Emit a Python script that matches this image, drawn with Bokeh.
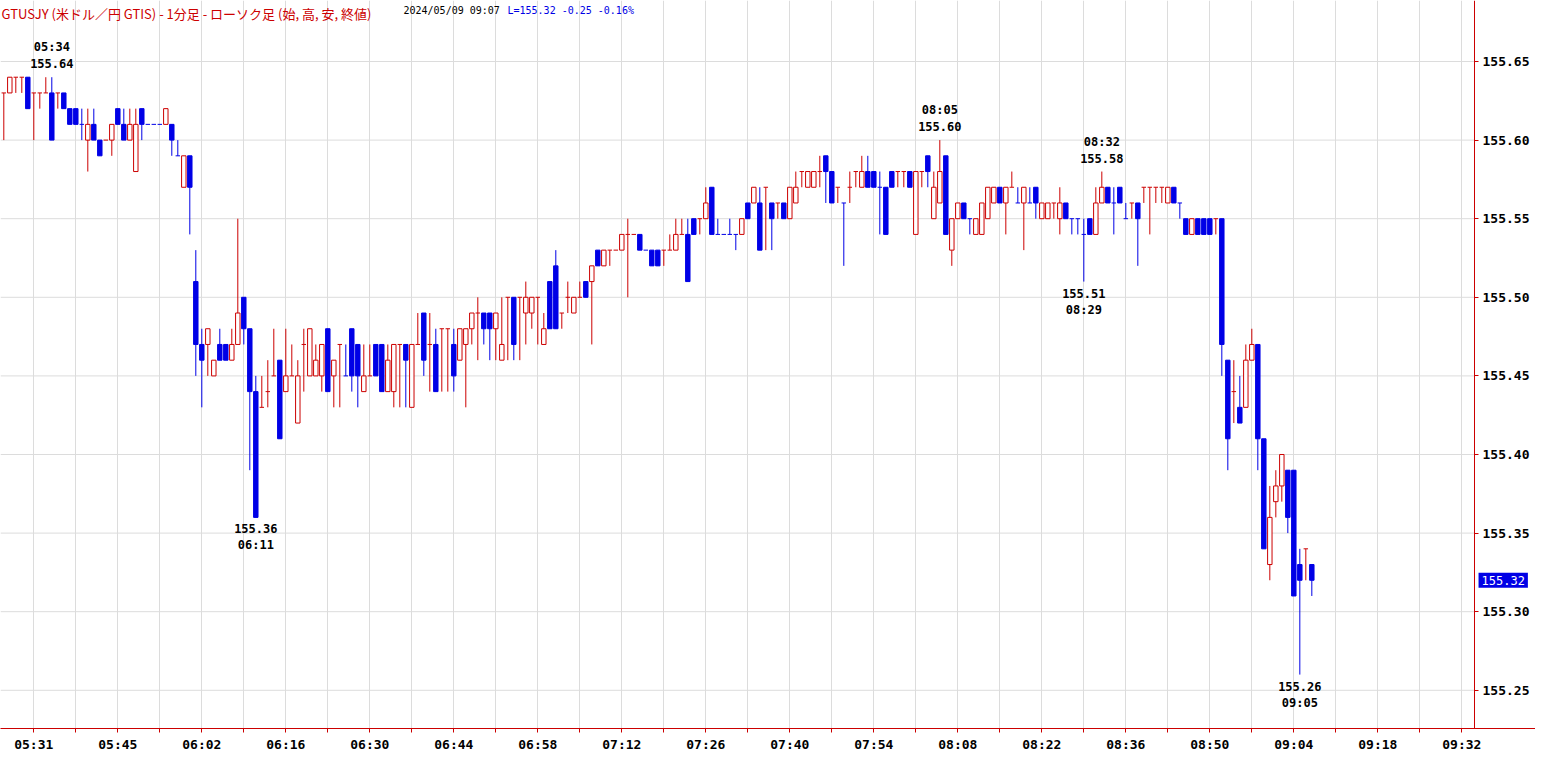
from bokeh.plotting import figure
from bokeh.models import ColumnDataSource, FixedTicker, Label, Range1d, NumeralTickFormatter
from bokeh.embed import file_html
from bokeh.resources import INLINE

# ---------------- data (1-minute bars, USD/JPY, 2024/05/09) ----------------
opens = [
    155.63, 155.63, 155.64, 155.64, 155.64, 155.63, 155.63, 155.63, 155.63, 155.63,
    155.63, 155.62, 155.62, 155.61, 155.60, 155.61, 155.60, 155.60, 155.60, 155.62,
    155.61, 155.60, 155.58, 155.62, 155.61, 155.61, 155.61, 155.61, 155.61, 155.59,
    155.57, 155.59, 155.51, 155.47, 155.47, 155.45, 155.47, 155.47, 155.46, 155.47,
    155.50, 155.48, 155.44, 155.43, 155.44, 155.45, 155.46, 155.44, 155.45, 155.42,
    155.47, 155.45, 155.45, 155.45, 155.48, 155.45, 155.47, 155.45, 155.48, 155.47,
    155.44, 155.45, 155.47, 155.47, 155.44, 155.44, 155.47, 155.47, 155.43, 155.47,
    155.49, 155.47, 155.47, 155.48, 155.48, 155.47, 155.46, 155.47, 155.48, 155.49,
    155.49, 155.49, 155.48, 155.46, 155.50, 155.50, 155.50, 155.49, 155.49, 155.50,
    155.47, 155.51, 155.52, 155.49, 155.50, 155.49, 155.50, 155.51, 155.51, 155.53,
    155.52, 155.53, 155.53, 155.53, 155.54, 155.54, 155.54, 155.53, 155.53, 155.53,
    155.53, 155.53, 155.53, 155.54, 155.54, 155.55, 155.55, 155.55, 155.57, 155.54,
    155.54, 155.54, 155.54, 155.54, 155.56, 155.56, 155.56, 155.57, 155.56, 155.56,
    155.56, 155.55, 155.56, 155.58, 155.57, 155.57, 155.58, 155.59, 155.58, 155.57,
    155.56, 155.57, 155.58, 155.57, 155.58, 155.58, 155.57, 155.57, 155.58, 155.58,
    155.58, 155.58, 155.54, 155.58, 155.59, 155.55, 155.56, 155.59, 155.53, 155.55,
    155.56, 155.55, 155.54, 155.54, 155.55, 155.56, 155.57, 155.56, 155.57, 155.56,
    155.56, 155.56, 155.57, 155.55, 155.55, 155.56, 155.55, 155.56, 155.55, 155.55,
    155.54, 155.55, 155.54, 155.56, 155.57, 155.56, 155.57, 155.55, 155.56, 155.56,
    155.57, 155.57, 155.57, 155.57, 155.56, 155.57, 155.56, 155.55, 155.54, 155.55,
    155.55, 155.55, 155.55, 155.55, 155.46, 155.44, 155.43, 155.43, 155.46, 155.47,
    155.41, 155.33, 155.37, 155.38, 155.39, 155.39, 155.33, 155.34, 155.33,
]
highs = [
    155.63, 155.64, 155.64, 155.64, 155.64, 155.63, 155.63, 155.64, 155.64, 155.63,
    155.63, 155.62, 155.62, 155.62, 155.62, 155.62, 155.60, 155.60, 155.61, 155.62,
    155.62, 155.62, 155.62, 155.62, 155.61, 155.61, 155.61, 155.62, 155.61, 155.60,
    155.59, 155.59, 155.53, 155.48, 155.48, 155.46, 155.48, 155.47, 155.48, 155.55,
    155.50, 155.48, 155.45, 155.45, 155.46, 155.48, 155.46, 155.48, 155.47, 155.46,
    155.48, 155.48, 155.47, 155.47, 155.48, 155.46, 155.47, 155.47, 155.48, 155.47,
    155.47, 155.47, 155.47, 155.47, 155.47, 155.47, 155.47, 155.47, 155.47, 155.49,
    155.49, 155.49, 155.48, 155.48, 155.48, 155.48, 155.48, 155.48, 155.49, 155.50,
    155.49, 155.49, 155.49, 155.50, 155.50, 155.50, 155.50, 155.51, 155.50, 155.50,
    155.49, 155.51, 155.53, 155.49, 155.51, 155.50, 155.51, 155.51, 155.52, 155.53,
    155.53, 155.53, 155.53, 155.54, 155.55, 155.54, 155.54, 155.53, 155.53, 155.53,
    155.53, 155.54, 155.55, 155.55, 155.55, 155.55, 155.55, 155.57, 155.57, 155.55,
    155.54, 155.55, 155.54, 155.55, 155.56, 155.57, 155.57, 155.57, 155.56, 155.56,
    155.56, 155.57, 155.58, 155.58, 155.58, 155.58, 155.59, 155.59, 155.58, 155.57,
    155.56, 155.58, 155.58, 155.59, 155.59, 155.58, 155.58, 155.57, 155.58, 155.58,
    155.58, 155.58, 155.58, 155.58, 155.59, 155.58, 155.60, 155.59, 155.55, 155.56,
    155.56, 155.55, 155.55, 155.56, 155.57, 155.57, 155.57, 155.57, 155.58, 155.57,
    155.57, 155.57, 155.57, 155.56, 155.56, 155.56, 155.57, 155.56, 155.55, 155.55,
    155.55, 155.55, 155.57, 155.58, 155.57, 155.57, 155.57, 155.56, 155.56, 155.56,
    155.57, 155.57, 155.57, 155.57, 155.57, 155.57, 155.56, 155.55, 155.55, 155.55,
    155.55, 155.55, 155.55, 155.55, 155.46, 155.46, 155.45, 155.47, 155.48, 155.47,
    155.41, 155.38, 155.39, 155.40, 155.39, 155.39, 155.34, 155.34, 155.33,
]
lows = [
    155.60, 155.63, 155.63, 155.63, 155.62, 155.60, 155.62, 155.63, 155.60, 155.62,
    155.62, 155.61, 155.61, 155.60, 155.58, 155.60, 155.59, 155.60, 155.59, 155.61,
    155.60, 155.60, 155.58, 155.60, 155.61, 155.61, 155.61, 155.61, 155.59, 155.59,
    155.57, 155.54, 155.45, 155.43, 155.45, 155.45, 155.46, 155.46, 155.46, 155.47,
    155.47, 155.39, 155.36, 155.43, 155.43, 155.45, 155.41, 155.44, 155.45, 155.42,
    155.44, 155.45, 155.45, 155.44, 155.44, 155.43, 155.43, 155.45, 155.44, 155.43,
    155.44, 155.45, 155.45, 155.44, 155.44, 155.43, 155.43, 155.43, 155.43, 155.47,
    155.45, 155.44, 155.44, 155.44, 155.44, 155.44, 155.46, 155.43, 155.47, 155.46,
    155.47, 155.46, 155.46, 155.46, 155.46, 155.46, 155.46, 155.47, 155.48, 155.47,
    155.47, 155.48, 155.48, 155.48, 155.49, 155.49, 155.50, 155.50, 155.47, 155.52,
    155.52, 155.52, 155.53, 155.53, 155.50, 155.54, 155.53, 155.53, 155.52, 155.52,
    155.52, 155.53, 155.53, 155.54, 155.51, 155.54, 155.54, 155.55, 155.54, 155.54,
    155.54, 155.54, 155.53, 155.54, 155.55, 155.56, 155.53, 155.53, 155.53, 155.55,
    155.55, 155.55, 155.56, 155.57, 155.57, 155.57, 155.57, 155.56, 155.56, 155.56,
    155.52, 155.56, 155.57, 155.57, 155.57, 155.57, 155.54, 155.54, 155.57, 155.57,
    155.57, 155.57, 155.54, 155.57, 155.57, 155.55, 155.56, 155.54, 155.52, 155.55,
    155.55, 155.54, 155.54, 155.54, 155.55, 155.56, 155.56, 155.54, 155.57, 155.56,
    155.53, 155.56, 155.55, 155.55, 155.55, 155.55, 155.54, 155.55, 155.54, 155.54,
    155.51, 155.54, 155.54, 155.56, 155.56, 155.54, 155.56, 155.55, 155.55, 155.52,
    155.56, 155.54, 155.56, 155.56, 155.56, 155.56, 155.55, 155.54, 155.54, 155.54,
    155.54, 155.54, 155.54, 155.45, 155.39, 155.42, 155.42, 155.43, 155.46, 155.39,
    155.34, 155.32, 155.36, 155.37, 155.35, 155.31, 155.26, 155.32, 155.31,
]
closes = [
    155.63, 155.64, 155.64, 155.64, 155.62, 155.63, 155.63, 155.63, 155.60, 155.63,
    155.62, 155.61, 155.61, 155.61, 155.61, 155.60, 155.59, 155.60, 155.61, 155.61,
    155.60, 155.61, 155.61, 155.61, 155.61, 155.61, 155.61, 155.62, 155.60, 155.59,
    155.59, 155.57, 155.47, 155.46, 155.48, 155.46, 155.46, 155.46, 155.47, 155.49,
    155.48, 155.44, 155.36, 155.43, 155.44, 155.45, 155.41, 155.45, 155.45, 155.45,
    155.47, 155.48, 155.46, 155.47, 155.44, 155.46, 155.47, 155.45, 155.45, 155.45,
    155.45, 155.45, 155.45, 155.44, 155.46, 155.47, 155.47, 155.46, 155.47, 155.47,
    155.46, 155.47, 155.44, 155.48, 155.48, 155.45, 155.48, 155.48, 155.49, 155.49,
    155.48, 155.48, 155.49, 155.47, 155.50, 155.47, 155.50, 155.50, 155.50, 155.50,
    155.48, 155.48, 155.48, 155.49, 155.50, 155.50, 155.50, 155.50, 155.52, 155.52,
    155.53, 155.53, 155.53, 155.54, 155.54, 155.54, 155.53, 155.53, 155.52, 155.52,
    155.53, 155.53, 155.54, 155.54, 155.51, 155.54, 155.55, 155.56, 155.54, 155.54,
    155.54, 155.54, 155.54, 155.55, 155.55, 155.57, 155.53, 155.57, 155.55, 155.56,
    155.55, 155.57, 155.57, 155.58, 155.58, 155.58, 155.58, 155.58, 155.56, 155.57,
    155.56, 155.57, 155.58, 155.58, 155.57, 155.57, 155.57, 155.54, 155.57, 155.58,
    155.58, 155.57, 155.58, 155.58, 155.58, 155.57, 155.58, 155.54, 155.55, 155.56,
    155.55, 155.55, 155.55, 155.56, 155.57, 155.57, 155.56, 155.57, 155.57, 155.56,
    155.57, 155.56, 155.56, 155.56, 155.56, 155.56, 155.56, 155.55, 155.55, 155.55,
    155.54, 155.54, 155.56, 155.57, 155.56, 155.56, 155.56, 155.55, 155.56, 155.55,
    155.57, 155.57, 155.57, 155.57, 155.57, 155.56, 155.56, 155.54, 155.55, 155.54,
    155.54, 155.54, 155.55, 155.47, 155.41, 155.44, 155.42, 155.46, 155.47, 155.41,
    155.34, 155.36, 155.38, 155.40, 155.36, 155.31, 155.32, 155.34, 155.32,
]

# time-axis labels (one every 14 bars, starting at bar 5 = 05:31)
tick_labels = ["05:31", "05:45", "06:02", "06:16", "06:30", "06:44", "06:58", "07:12", "07:26",
               "07:40", "07:54", "08:08", "08:22", "08:36", "08:50", "09:04", "09:18", "09:32"]
first_tick_bar = 5
tick_step = 14

price_ticks = [155.25, 155.30, 155.35, 155.40, 155.45, 155.50, 155.55, 155.60, 155.65]

# marked highs / lows
ext_bars = [8, 42, 156, 180, 183, 216]
ext_times = ["05:34", "06:11", "08:05", "08:29", "08:32", "09:05"]
ext_is_high = [True, False, True, False, True, False]

title_main = "GTUSJY (米ドル／円 GTIS) - 1分足 - ローソク足 (始, 高, 安, 終値)"
title_date = "2024/05/09 09:07"
change_abs = -0.25
change_pct = -0.16

# ---------------- styling ----------------
RED = "#cc0000"
BLUE = "#0000e6"
GRID = "#dcdcdc"
MONO = "DejaVu Sans Mono"
BODY_W = 0.74

# plotting area covers the whole width; the price axis sits inside it
x_start, x_end = -0.55, 255.28
axis_x = 245.12
y_end = 155.6888
y_start = 155.2257

n = len(opens)
colors = []
prev = RED
for i in range(n):
    o, c = opens[i], closes[i]
    if c > o:
        col = RED
    elif c < o:
        col = BLUE
    else:
        pc = closes[i - 1] if i > 0 else c
        col = RED if c > pc else (BLUE if c < pc else prev)
    colors.append(col)
    prev = col

wick_src = ColumnDataSource(dict(x=list(range(n)), high=highs, low=lows, color=colors))

body = dict(x=[], top=[], bottom=[], fill=[], line=[])
doji = dict(x0=[], x1=[], y=[], color=[])
for i in range(n):
    o, c = opens[i], closes[i]
    if o != c:
        body["x"].append(i)
        body["top"].append(max(o, c))
        body["bottom"].append(min(o, c))
        body["fill"].append("white" if c > o else BLUE)
        body["line"].append(RED if c > o else BLUE)
    else:
        doji["x0"].append(i - BODY_W / 2)
        doji["x1"].append(i + BODY_W / 2)
        doji["y"].append(o)
        doji["color"].append(colors[i])

p = figure(width=1535, height=754,
           x_range=Range1d(x_start, x_end), y_range=Range1d(y_start, y_end),
           y_axis_location="right", output_backend="svg", toolbar_location=None,
           min_border_left=0, min_border_top=0, min_border_bottom=26, min_border_right=0)
p.outline_line_color = None
p.background_fill_color = "white"
p.border_fill_color = "white"

# horizontal grid lines stop at the price axis
p.ygrid.grid_line_color = None
p.segment(x0=[x_start] * len(price_ticks), y0=price_ticks, x1=[axis_x] * len(price_ticks),
          y1=price_ticks, line_color=GRID, line_width=1, level="underlay")

p.segment(x0="x", y0="low", x1="x", y1="high", line_color="color", line_width=1, source=wick_src)
p.vbar(x="x", width=BODY_W, top="top", bottom="bottom", fill_color="fill", line_color="line",
       line_width=1, source=ColumnDataSource(body))
p.segment(x0="x0", y0="y", x1="x1", y1="y", line_color="color", line_width=1,
          source=ColumnDataSource(doji))

# x axis
xticks = []
overrides = {}
k = 0
while first_tick_bar + 7 * k <= axis_x:
    t = first_tick_bar + 7 * k
    xticks.append(t)
    if k % 2 == 0 and k // 2 < len(tick_labels):
        overrides[t] = tick_labels[k // 2]
    else:
        overrides[t] = ""
    k += 1
p.xaxis.ticker = FixedTicker(ticks=xticks, minor_ticks=[])
p.xaxis.major_label_overrides = overrides
p.xaxis.major_label_text_align = "left"
p.xaxis.major_label_text_font = MONO
p.xaxis.major_label_text_font_style = "bold"
p.xaxis.major_label_text_font_size = "13px"
p.xaxis.major_label_text_color = "black"
p.xaxis.major_label_standoff = 4
p.xaxis.axis_line_color = RED
p.xaxis.major_tick_line_color = RED
p.xaxis.major_tick_out = 4
p.xaxis.major_tick_in = 0
p.xaxis.minor_tick_line_color = None
p.xgrid.ticker = FixedTicker(ticks=xticks, minor_ticks=[])
p.xgrid.grid_line_color = GRID

# price axis (right side), placed at axis_x inside the plotting area
p.yaxis.fixed_location = axis_x
p.yaxis.ticker = FixedTicker(ticks=price_ticks, minor_ticks=[])
p.yaxis.formatter = NumeralTickFormatter(format="0.00")
p.yaxis.major_label_text_font = MONO
p.yaxis.major_label_text_font_style = "bold"
p.yaxis.major_label_text_font_size = "13px"
p.yaxis.major_label_text_color = "black"
p.yaxis.major_label_standoff = 4
p.yaxis.axis_line_color = RED
p.yaxis.major_tick_line_color = RED
p.yaxis.major_tick_out = 4
p.yaxis.major_tick_in = 0
p.yaxis.minor_tick_line_color = None

# high / low annotations
for b, t, is_high in zip(ext_bars, ext_times, ext_is_high):
    price = highs[b] if is_high else lows[b]
    if is_high:
        p.add_layout(Label(x=b, y=price, text=f"{price:.2f}", y_offset=9, text_align="center",
                           text_baseline="bottom", text_font=MONO, text_font_style="bold",
                           text_font_size="12px", text_color="black"))
        p.add_layout(Label(x=b, y=price, text=t, y_offset=23, text_align="center",
                           text_baseline="bottom", text_font=MONO, text_font_style="bold",
                           text_font_size="12px", text_color="black"))
    else:
        p.add_layout(Label(x=b, y=price, text=f"{price:.2f}", y_offset=-7, text_align="center",
                           text_baseline="top", text_font=MONO, text_font_style="bold",
                           text_font_size="12px", text_color="black"))
        p.add_layout(Label(x=b, y=price, text=t, y_offset=-21, text_align="center",
                           text_baseline="top", text_font=MONO, text_font_style="bold",
                           text_font_size="12px", text_color="black"))

# header texts
last = closes[-1]
p.add_layout(Label(x=x_start, y=y_end, x_offset=1, y_offset=-3, text=title_main,
                   text_baseline="top", text_font="Noto Sans CJK JP",
                   text_font_size="13px", text_color=RED))
p.add_layout(Label(x=x_start, y=y_end, x_offset=403, y_offset=-4, text=title_date,
                   text_baseline="top", text_font=MONO, text_font_size="10px", text_color="black"))
p.add_layout(Label(x=x_start, y=y_end, x_offset=507, y_offset=-4,
                   text=f"L={last:.2f}  {change_abs:.2f}  {change_pct:.2f}%",
                   text_baseline="top", text_font=MONO, text_font_size="10px", text_color=BLUE))

# last price tag next to the price axis
tag = Label(x=axis_x, y=last, x_offset=4, text=f"{last:.2f}", text_baseline="middle",
            text_font=MONO, text_font_size="12px", text_color="white",
            background_fill_color=BLUE)
try:
    tag.padding = 3
except Exception:
    pass
p.add_layout(tag)

open("out.html", "w").write(file_html(p, INLINE))
